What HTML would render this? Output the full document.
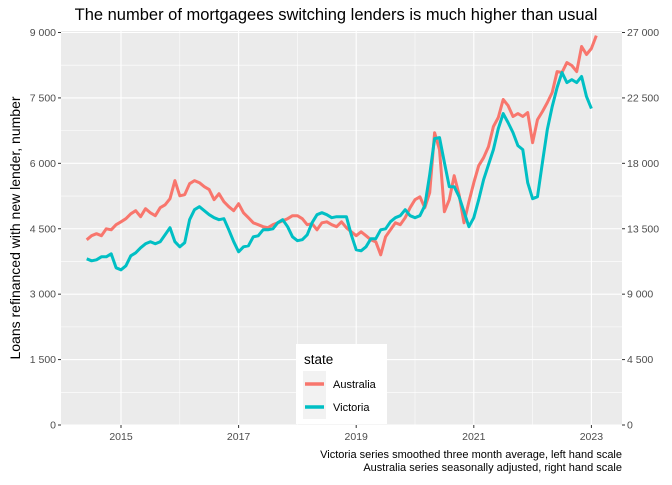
<!DOCTYPE html>
<html><head><meta charset="utf-8"><style>
body{margin:0;background:#fff}
svg text{font-family:"Liberation Sans",sans-serif}
</style></head><body>
<svg id="c" width="672" height="480" viewBox="0 0 672 480" xmlns="http://www.w3.org/2000/svg">
<rect width="672" height="480" fill="#fff"/>
<text x="336" y="20" text-anchor="middle" font-size="16.5" fill="#000">The number of mortgagees switching lenders is much higher than usual</text>
<rect x="61" y="31" width="561" height="394" fill="#EBEBEB"/>
<g id="grid"></g>
<g id="axes"></g>
<g id="series"></g>
<text transform="translate(20,228) rotate(-90)" text-anchor="middle" font-size="14" fill="#000">Loans refinanced with new lender, number</text>
<text x="622" y="458" text-anchor="end" font-size="11" fill="#000">Victoria series smoothed three month average, left hand scale</text>
<text x="622" y="471" text-anchor="end" font-size="11" fill="#000">Australia series seasonally adjusted, right hand scale</text>
<g>
<rect x="296" y="344" width="91" height="80" fill="#fff"/>
<text x="304" y="364" font-size="13.5" fill="#000">state</text>
<rect x="303" y="371" width="23" height="48" fill="#F2F2F2"/>
<line x1="305" x2="324" y1="384" y2="384" stroke="#F8766D" stroke-width="3.5"/>
<line x1="305" x2="324" y1="407" y2="407" stroke="#00BFC4" stroke-width="3.5"/>
<text x="333" y="388" font-size="11" fill="#000">Australia</text>
<text x="333" y="411" font-size="11" fill="#000">Victoria</text>
</g>
</svg>
<script>
const startYear = 2014 + 5/12;
const australia = [12740,13020,13160,13020,13500,13430,13780,13980,14190,14530,14740,14330,14880,14600,14400,14950,15150,15570,16810,15770,15840,16600,16810,16670,16390,16190,15500,15910,15360,15020,14740,15220,14600,14260,13910,13780,13640,13570,13780,13910,14050,14190,14400,14400,14190,13780,13850,13430,13910,13980,13780,13640,13980,13570,13290,13020,13290,13020,12740,12600,11710,12950,13430,13910,13780,14260,14950,15500,15700,14950,15980,20110,18940,14670,15500,17150,15840,13910,15360,16670,17840,18390,19150,20530,21150,22390,21970,21220,21420,21220,21490,19420,21010,21560,22180,22870,24310,24250,24930,24730,24310,26040,25490,25900,26790];
const victoria = [3811,3765,3788,3857,3857,3926,3605,3559,3651,3880,3949,4064,4156,4202,4156,4202,4362,4523,4202,4087,4179,4707,4936,5005,4913,4822,4753,4707,4730,4477,4202,3972,4087,4110,4316,4339,4477,4477,4500,4638,4707,4546,4316,4225,4248,4362,4638,4822,4868,4822,4753,4776,4776,4776,4362,4018,3995,4087,4271,4271,4477,4500,4661,4753,4799,4936,4799,4753,4799,5028,5740,6567,6590,6016,5464,5464,5235,4890,4546,4753,5166,5625,5970,6314,6796,7141,6934,6704,6406,6314,5556,5189,5235,6016,6773,7301,7738,8082,7852,7921,7852,7990,7531,7255];
const leftTicks = [0,1500,3000,4500,6000,7500,9000];
const leftTickLabels = ["0","1 500","3 000","4 500","6 000","7 500","9 000"];
const rightTickLabels = ["0","4 500","9 000","13 500","18 000","22 500","27 000"];
const xTickYears = [2015,2017,2019,2021,2023];
const xMinorYears = [2016,2018,2020,2022];
const rightRatio = 3;

const NS="http://www.w3.org/2000/svg";
const X0=61,X1=622,Y0=31,Y1=425;
function xScale(t){return 121+(t-2015)*58.8;}
function yLeft(v){return 425-v/9000*392.5;}
function yRight(v){return yLeft(v/rightRatio);}
function mk(tag,attrs,parent){const e=document.createElementNS(NS,tag);for(const k in attrs)e.setAttribute(k,attrs[k]);parent.appendChild(e);return e;}
const grid=document.getElementById('grid'),axes=document.getElementById('axes'),ser=document.getElementById('series');

for(let i=0;i<leftTicks.length-1;i++){
  const y=yLeft((leftTicks[i]+leftTicks[i+1])/2);
  const l=mk('line',{x1:X0,x2:X1,y1:y,y2:y,stroke:'#fff','stroke-width':0.55},grid);
  
  
}
xMinorYears.forEach(yr=>{
  const x=xScale(yr);
  const l=mk('line',{x1:x,x2:x,y1:Y0,y2:Y1,stroke:'#fff','stroke-width':0.55},grid);
  
  
});
leftTicks.forEach((v,i)=>{
  const y=yLeft(v);
  const l=mk('line',{x1:X0,x2:X1,y1:y,y2:y,stroke:'#fff','stroke-width':1.1},grid);
  
  
  const t1=mk('line',{x1:X0-3,x2:X0,y1:y,y2:y,stroke:'#333','stroke-width':1},axes);
  
  
  const lt=mk('text',{x:X0-5,y:y+3.5,'text-anchor':'end','font-size':'10.5',fill:'#4D4D4D'},axes);
  lt.textContent=leftTickLabels[i];
  
  
  const t2=mk('line',{x1:X1,x2:X1+3,y1:y,y2:y,stroke:'#333','stroke-width':1},axes);
  
  
  const rt=mk('text',{x:X1+5,y:y+3.5,'text-anchor':'start','font-size':'10.5',fill:'#4D4D4D'},axes);
  rt.textContent=rightTickLabels[i];
  
  
});
xTickYears.forEach(yr=>{
  const x=xScale(yr);
  const l=mk('line',{x1:x,x2:x,y1:Y0,y2:Y1,stroke:'#fff','stroke-width':1.1},grid);
  
  
  const t=mk('line',{x1:x,x2:x,y1:Y1,y2:Y1+3,stroke:'#333','stroke-width':1},axes);
  
  
  const tx=mk('text',{x:x,y:Y1+15,'text-anchor':'middle','font-size':'10.5',fill:'#4D4D4D'},axes);
  tx.textContent=String(yr);
  
  
});
function path(vals,yf){return vals.map((v,i)=>(i?'L':'M')+xScale(startYear+i/12).toFixed(1)+','+yf(v).toFixed(1)).join(' ');}
const pa=mk('path',{d:path(australia,yRight),fill:'none',stroke:'#F8766D','stroke-width':3,'stroke-linejoin':'round'},ser);


const pv=mk('path',{d:path(victoria,yLeft),fill:'none',stroke:'#00BFC4','stroke-width':3,'stroke-linejoin':'round'},ser);


</script>
</body></html>
